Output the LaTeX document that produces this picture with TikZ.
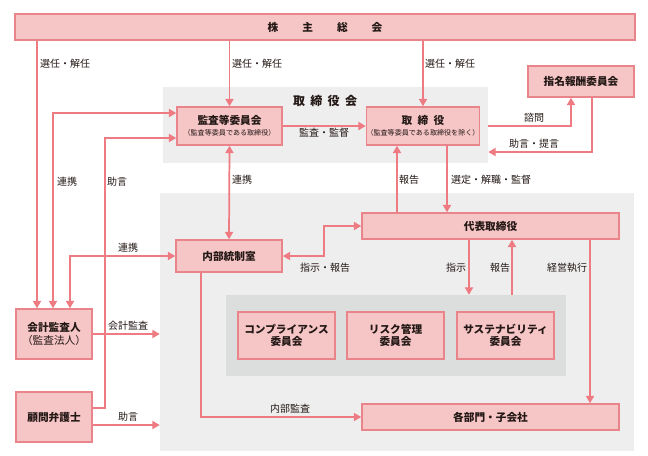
\documentclass[tikz,border=0pt]{standalone}
\usepackage{fontspec}
\setmainfont{Noto Sans CJK JP}
\usetikzlibrary{arrows.meta,calc}
\definecolor{boxfill}{HTML}{F6C5C6}
\definecolor{boxline}{HTML}{E9848B}
\definecolor{conn}{HTML}{EE7A82}
\definecolor{grayA}{HTML}{EEEEEE}
\definecolor{grayB}{HTML}{DCDDDD}
\definecolor{txt}{HTML}{231815}
\begin{document}
\begin{tikzpicture}[x=0.75pt,y=-0.75pt,
  sz/.style 2 args={minimum width=#1*0.75pt,minimum height=#2*0.75pt},
  box/.style={draw=boxline,fill=boxfill,line width=1.1pt,inner sep=0pt,align=center,text=txt,font=\bfseries\fontsize{8}{9.3}\selectfont},
  region/.style={fill=#1,inner sep=0pt},
  arr/.style={draw=conn,line width=1.3pt,-{Triangle[length=5.5pt,width=6pt]}},
  arrb/.style={draw=conn,line width=1.3pt,{Triangle[length=5.5pt,width=6pt]}-{Triangle[length=5.5pt,width=6pt]}},
  lbl/.style={text=txt,font=\fontsize{7.5}{9}\selectfont,inner sep=0pt}
]
\fill[white] (0,0) rectangle (648,455);
\useasboundingbox (0,0) rectangle (648,455);

% regions
\node[region=grayA,sz={325}{76}] (board) at (325.5,125) {};
\node[text=txt,font=\bfseries\fontsize{9}{11}\selectfont,inner sep=0pt] (boardt) at (325,101) {取\hspace{4pt}締\hspace{4pt}役\hspace{4pt}会};
\node[region=grayA,sz={474}{258}] (exec) at (397,322) {};
\node[region=grayB,sz={340}{81}] (inner) at (396,335.5) {};

% boxes
\node[box,sz={620}{26}] (gsm) at (325,27) {株\hspace{18pt}主\hspace{18pt}総\hspace{18pt}会};
\node[box,sz={105}{38}] (audit) at (229.5,126) {監査等委員会\\[-1pt]{\fontsize{5.3}{6.5}\selectfont\mdseries （監査等委員である取締役）}};
\node[box,sz={110}{38}] (dir) at (423,126) {取\hspace{4pt}締\hspace{4pt}役\\[-1pt]{\fontsize{5.3}{6.5}\selectfont\mdseries （監査等委員である取締役を除く）}};
\node[box,sz={106}{31}] (nom) at (581,81.5) {指名報酬委員会};
\node[box,sz={106}{32}] (ic) at (229,256) {内部統制室};
\node[box,sz={257}{26}] (rep) at (490.5,226) {代表取締役};
\node[box,sz={97}{47}] (c1) at (286.5,335.5) {コンプライアンス\\委員会};
\node[box,sz={97}{47}] (c2) at (395.5,335.5) {リスク管理\\委員会};
\node[box,sz={97}{47}] (c3) at (505.5,335.5) {サステナビリティ\\委員会};
\node[box,sz={257}{26}] (div) at (490.5,417) {各部門・子会社};
\node[box,sz={76}{50}] (aud) at (54,334) {会計監査人\\{\mdseries （監査法人）}};
\node[box,sz={76}{50}] (law) at (54,417) {顧問弁護士};

% connectors from shareholders
\draw[arr] (gsm.south -| 37,0) -- (aud.north -| 37,0);
\draw[arr] (gsm.south -| audit.north) -- (audit.north);
\draw[arr] (gsm.south -| dir.north) -- (dir.north);
\node[lbl] (l1) at (65,64) {選任・解任};
\node[lbl] (l2) at (257,64) {選任・解任};
\node[lbl] (l3) at (450,64) {選任・解任};

% board internal
\draw[arr] (audit.east) -- (dir.west);
\node[lbl] (l4) at (324,133) {監査・監督};

% nomination
\draw[arr] (board.east |- dir.east) -| ($(nom.south)+(-10,0)$);
\draw[arr] ($(nom.south)+(11,0)$) |- ($(board.east)+(0,27)$);
\node[lbl] (l5) at (534,118) {諮問};
\node[lbl] (l6) at (534,144) {助言・提言};

% left side
\draw[arrb] ($(audit.west)+(0,-13)$) -| (aud.north -| 53,0);
\node[lbl] (l7) at (67,182) {連携};
\draw[arr] ($(law.east)+(0,-9)$) -| (105,138) -- ($(audit.west)+(0,12)$);
\node[lbl] (l8) at (117,182) {助言};
\draw[arrb] (ic.west) -| (aud.north -| 70,0);
\node[lbl] (l9) at (128,248) {連携};
\draw[arr] (aud.east) -- (aud.east -| exec.west);
\node[lbl] (l10) at (128,326) {会計監査};
\draw[arr] ($(law.east)+(0,8)$) -- ($(law.east -| exec.west)+(0,8)$);
\node[lbl] (l11) at (128,417) {助言};

% middle
\draw[arrb] (audit.south) -- (ic.north);
\node[lbl] (l12) at (242,180) {連携};
\draw[arr] (rep.north -| 397,0) -- (dir.south -| 397,0);
\node[lbl] (l13) at (409,180) {報告};
\draw[arr] (dir.south -| 447,0) -- (rep.north -| 447,0);
\node[lbl] (l14) at (491,180) {選定・解職・監督};
\draw[arrb] (ic.east) -| ($(rep.west)+(-37,0)$) -- (rep.west);
\node[lbl] (l15) at (325,268) {指示・報告};
\draw[arr] (rep.south -| 469,0) -- (inner.north -| 469,0);
\node[lbl] (l16) at (456,268) {指示};
\draw[arr] (inner.north -| 512,0) -- (rep.south -| 512,0);
\node[lbl] (l17) at (500,268) {報告};
\draw[arr] (rep.south -| 590,0) -- (div.north -| 590,0);
\node[lbl] (l18) at (567,268) {経営執行};
\draw[arr] (ic.south -| 201,0) |- (div.west);
\node[lbl] (l19) at (290,409) {内部監査};
\end{tikzpicture}
\end{document}
